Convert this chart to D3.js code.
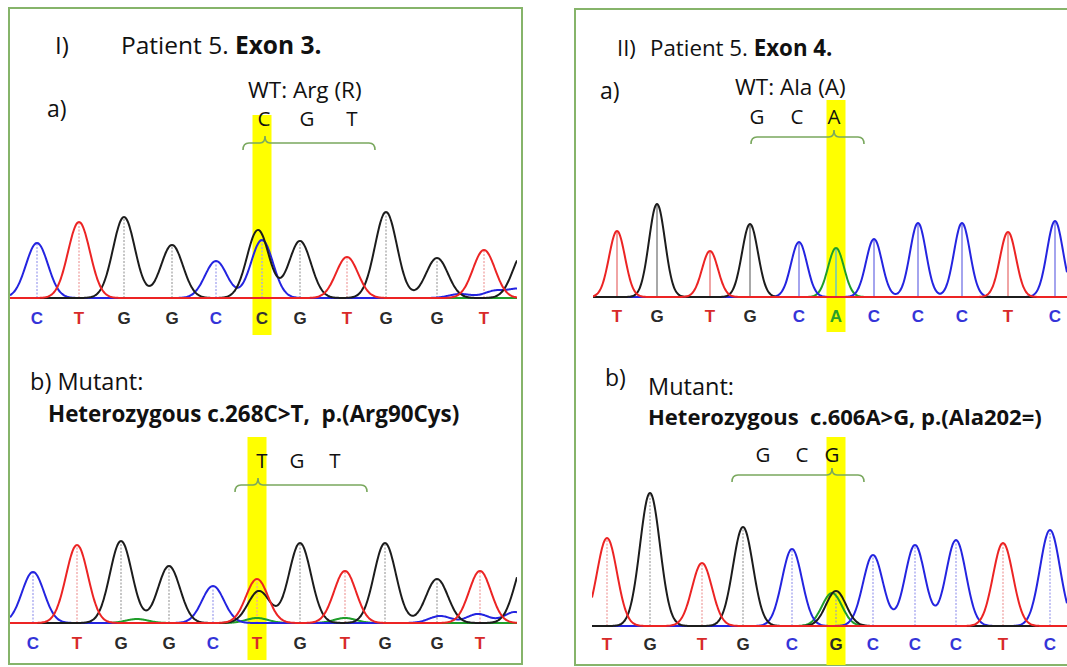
<!DOCTYPE html>
<html>
<head>
<meta charset="utf-8">
<script src="https://cdn.jsdelivr.net/npm/d3@7.9.0/dist/d3.min.js"></script>
<style>
  body { margin: 0; background: #fff; }
  svg { display: block; }
  .txt { font-family: "Open Sans", Lato, sans-serif; fill: #111; }
  .call { font-family: "Liberation Sans", Arial, sans-serif; font-weight: bold; }
</style>
</head>
<body>
<svg id="chart" width="1067" height="667"></svg>
<script>
// trace colours per dye channel
const channels = ['A', 'C', 'G', 'T'];
const traceColor = { A: '#1f9e2a', C: '#2424e0', G: '#1c1c1c', T: '#ec2424' };
const markColor = { A: '#8fd48f', C: '#a4a4ee', G: '#a8a8a8', T: '#f0a4a4' };
const callColor = { A: '#2aa02a', C: '#3434d8', G: '#2a2a2a', T: '#d82a2a' };

// I a) wild type, exon 3 (scan = position along the trace)
const iaCalls = ['C', 'T', 'G', 'G', 'C', 'C', 'G', 'T', 'G', 'G', 'T'];
const iaScans = [27, 69, 114, 162, 206, 252, 290, 337, 376, 427, 474];
const iaPeaks = [55, 76, 81, 53, 37, 58, 57, 41, 86, 40, 48];
const iaMinorCalls = ['G', 'G', 'C', 'C', 'C'];
const iaMinorScans = [248, 514, 450, 485, 510];
const iaMinorPeaks = [68, 46, 4, 7, 9];

// I b) mutant c.268C>T
const ibCalls = ['C', 'T', 'G', 'G', 'C', 'T', 'G', 'T', 'G', 'G', 'T'];
const ibScans = [23, 67, 111, 159, 203, 247, 290, 335, 375, 427, 470];
const ibPeaks = [51, 78, 82, 57, 37, 44, 80, 52, 80, 44, 52];
const ibMinorCalls = ['G', 'G', 'A', 'A', 'A', 'C', 'C', 'C'];
const ibMinorScans = [249, 516, 127, 335, 247, 430, 468, 505];
const ibMinorPeaks = [32, 64, 4, 5, 5, 7, 9, 11];

// II a) wild type, exon 4
const iiaCalls = ['T', 'G', 'T', 'G', 'C', 'A', 'C', 'C', 'C', 'T', 'C'];
const iiaScans = [24, 64, 117, 157, 206, 243, 281, 325, 369, 415, 462];
const iiaPeaks = [66, 93, 46, 73, 55, 49, 58, 74, 74, 65, 76];

// II b) mutant c.606A>G
const iibCalls = ['T', 'G', 'T', 'G', 'C', 'G', 'C', 'C', 'C', 'T', 'C'];
const iibScans = [15, 58, 110, 151, 200, 244, 281, 323, 364, 411, 458];
const iibPeaks = [88, 133, 63, 99, 77, 35, 71, 81, 86, 83, 96];
const iibMinorCalls = ['A'];
const iibMinorScans = [240];
const iibMinorPeaks = [33];

// codons above the traces
const iaCodon = ['C', 'G', 'T'];
const ibCodon = ['T', 'G', 'T'];
const iiaCodon = ['G', 'C', 'A'];
const iibCodon = ['G', 'C', 'G'];

const svg = d3.select('#chart');
const frameColor = '#86b46a';

// panel frames
svg.append('rect').attr('x', 9).attr('y', 8).attr('width', 513).attr('height', 656)
  .attr('fill', 'none').attr('stroke', frameColor).attr('stroke-width', 2);
svg.append('rect').attr('x', 575).attr('y', 9).attr('width', 520).attr('height', 656)
  .attr('fill', 'none').attr('stroke', frameColor).attr('stroke-width', 2);

const traces = [
  { calls: iaCalls, scans: iaScans, peaks: iaPeaks, mCalls: iaMinorCalls, mScans: iaMinorScans, mPeaks: iaMinorPeaks,
    left: 10, right: 517, base: 298, sigma: 11, dash: '2,1.5', labelY: 324, hlTop: 115, hlBottom: 335, hlIndex: 5,
    hlColor: '#333', codon: iaCodon, codonX: [264, 307, 352], codonY: 126, brace: [243, 265, 375, 143] },
  { calls: ibCalls, scans: ibScans, peaks: ibPeaks, mCalls: ibMinorCalls, mScans: ibMinorScans, mPeaks: ibMinorPeaks,
    left: 10, right: 517, base: 623, sigma: 11, dash: '2,1.5', labelY: 649, hlTop: 437, hlBottom: 660, hlIndex: 5,
    hlColor: null, codon: ibCodon, codonX: [262, 297, 335], codonY: 468, brace: [235, 258, 367, 485] },
  { calls: iiaCalls, scans: iiaScans, peaks: iiaPeaks, mCalls: [], mScans: [], mPeaks: [],
    left: 593, right: 1067, base: 297, sigma: 8, dash: null, labelY: 322, hlTop: 100, hlBottom: 332, hlIndex: 5,
    hlColor: null, codon: iiaCodon, codonX: [757, 797, 834], codonY: 124, brace: [751, 834, 864, 137] },
  { calls: iibCalls, scans: iibScans, peaks: iibPeaks, mCalls: iibMinorCalls, mScans: iibMinorScans, mPeaks: iibMinorPeaks,
    left: 592, right: 1067, base: 626, sigma: 10, dash: '2,1.5', labelY: 650, hlTop: 437, hlBottom: 665, hlIndex: 5,
    hlColor: null, codon: iibCodon, codonX: [763, 802, 832], codonY: 462, brace: [732, 832, 864, 475] }
];

traces.forEach((t, ti) => {
  const width = t.right - t.left;
  const x = d3.scaleLinear().domain([0, width]).range([t.left, t.right]);
  const y = d3.scaleLinear().domain([0, 140]).range([t.base, t.base - 140]);

  // all peaks of this trace, grouped per channel
  const peaks = t.calls.map((c, i) => ({ ch: c, scan: t.scans[i], h: t.peaks[i] }))
    .concat(t.mCalls.map((c, i) => ({ ch: c, scan: t.mScans[i], h: t.mPeaks[i] })));
  const signal = (ch, s) => d3.sum(peaks.filter(p => p.ch === ch),
    p => p.h * Math.exp(-((s - p.scan) ** 2) / (2 * t.sigma * t.sigma)));

  const g = svg.append('g');
  const clipId = 'clip' + ti;
  g.append('clipPath').attr('id', clipId).append('rect')
    .attr('x', t.left).attr('y', t.base - 150).attr('width', width).attr('height', 155);

  // yellow highlight of the variant position
  const hx = x(t.scans[t.hlIndex]);
  g.append('rect').attr('x', hx - 9.5).attr('y', t.hlTop).attr('width', 19)
    .attr('height', t.hlBottom - t.hlTop).attr('fill', '#ffff00');

  // peak markers
  g.append('g').selectAll('line').data(t.calls).join('line')
    .attr('x1', (d, i) => x(t.scans[i])).attr('x2', (d, i) => x(t.scans[i]))
    .attr('y1', y(0)).attr('y2', (d, i) => y(signal(d, t.scans[i])))
    .attr('stroke', d => markColor[d]).attr('stroke-width', t.dash ? 1.3 : 2)
    .attr('stroke-dasharray', t.dash);

  // traces
  const samples = d3.range(0, width + 1, 1);
  const line = d3.line().x(s => x(s[0])).y(s => y(s[1])).curve(d3.curveMonotoneX);
  g.append('g').attr('clip-path', `url(#${clipId})`).selectAll('path').data(channels).join('path')
    .attr('d', ch => line(samples.map(s => [s, signal(ch, s)])))
    .attr('fill', 'none').attr('stroke', ch => traceColor[ch]).attr('stroke-width', 2)
    .attr('stroke-linejoin', 'round');

  // base calls
  g.append('g').selectAll('text').data(t.calls).join('text')
    .attr('class', 'call')
    .attr('x', (d, i) => x(t.scans[i])).attr('y', t.labelY)
    .attr('text-anchor', 'middle').attr('font-size', 17)
    .attr('fill', (d, i) => (i === t.hlIndex && t.hlColor) ? t.hlColor : callColor[d])
    .text(d => d);

  // codon letters
  g.append('g').selectAll('text').data(t.codon).join('text')
    .attr('class', 'txt').attr('x', (d, i) => t.codonX[i]).attr('y', t.codonY)
    .attr('text-anchor', 'middle').attr('font-size', 20.5).text(d => d);

  // brace below codon
  const [b0, bm, b1, by] = t.brace;
  const path = d3.path();
  path.moveTo(b0, by + 7);
  path.quadraticCurveTo(b0, by, b0 + 6, by);
  path.lineTo(bm - 5, by);
  path.quadraticCurveTo(bm, by, bm, by - 7);
  path.quadraticCurveTo(bm, by, bm + 5, by);
  path.lineTo(b1 - 6, by);
  path.quadraticCurveTo(b1, by, b1, by + 7);
  g.append('path').attr('d', path.toString()).attr('fill', 'none')
    .attr('stroke', '#7aa85e').attr('stroke-width', 1.6);
});

// text blocks
function label(x, y, size, parts) {
  const t = svg.append('text').attr('class', 'txt').attr('x', x).attr('y', y).attr('font-size', size)
    .attr('xml:space', 'preserve');
  parts.forEach(([s, bold]) => t.append('tspan').attr('font-weight', bold ? 'bold' : 'normal').text(s));
}
label(55, 54, 24, [['I)', false]]);
label(121, 54, 24.5, [['Patient 5. ', false], ['Exon 3.', true]]);
label(47, 117, 23, [['a)', false]]);
label(248, 98, 22.5, [['WT: Arg (R)', false]]);
label(30, 390, 23.5, [['b) Mutant:', false]]);
label(48, 422, 22.4, [['Heterozygous c.268C>T,  p.(Arg90Cys)', true]]);

label(617, 56, 22, [['II)', false]]);
label(650, 56, 22.3, [['Patient 5. ', false], ['Exon 4.', true]]);
label(600, 99, 23, [['a)', false]]);
label(735, 95, 22.5, [['WT: Ala (A)', false]]);
label(605, 386, 23, [['b)', false]]);
label(648, 395, 23.5, [['Mutant:', false]]);
label(648, 425, 22, [['Heterozygous  c.606A>G, p.(Ala202=)', true]]);
</script>
</body>
</html>
